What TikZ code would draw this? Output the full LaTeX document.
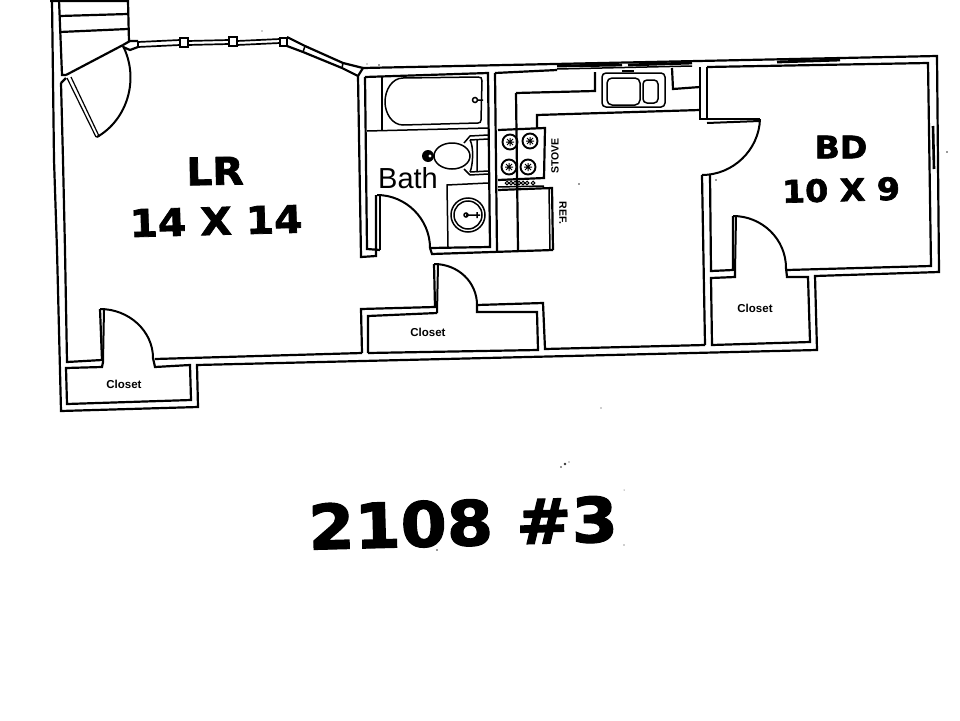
\documentclass[tikz,border=0pt]{standalone}
\usepackage{fontspec}
\setmainfont{Liberation Sans}
\newfontfamily\heavy[FakeBold=2,FakeStretch=1.07]{DejaVu Sans Bold}
\tikzset{
 wall/.style={line width=2.2pt,line join=miter,black},
 thin/.style={line width=1.5pt,black},
 door/.style={line width=2pt,black},
 leaf/.style={line width=1.2pt,black},
 big/.style={font=\heavy\fontsize{38}{38}\selectfont,inner sep=0pt},
 huge/.style={font=\heavy\fontsize{62}{62}\selectfont,inner sep=0pt},
 mid/.style={font=\heavy\fontsize{31}{31}\selectfont,inner sep=0pt},
 clos/.style={font=\bfseries\fontsize{11.5}{12}\selectfont,inner sep=0pt},
 tiny/.style={font=\bfseries\fontsize{10.5}{10.5}\selectfont,inner sep=0pt},
 burner/.style={circle,draw,line width=1.9pt,minimum size=15pt,inner sep=0pt},
 speck/.style={fill=black!80,draw=none}
}
\begin{document}
\begin{tikzpicture}[x=1pt,y=-1pt]
\useasboundingbox (0,0) rectangle (960,720);
\fill[white] (0,0) rectangle (960,720);
% outer shell, left and stairs
\draw[wall] (50,1) -- (128,1) -- (129,42);
\draw[wall] (52,0) -- (54,160) -- (57,250) -- (61,411) -- (198,407) -- (197,365) -- (817,350) -- (815,276) -- (939,272) -- (937,56) -- (363,68) -- (358,76) -- (361,257) -- (376,256) -- (376,195);
\draw[wall] (59,0) -- (62,75) -- (66,75);
\draw[wall] (61,83) -- (66,78);
\draw[wall] (61,83) -- (63,160) -- (65,250) -- (67,362) -- (102,360) -- (100,309);
\draw[wall] (60,16) -- (128,14) (60,32) -- (128,29);
% entry door
\draw[wall] (66,75) -- (123,45);
\draw[leaf] (67,78) -- (96,137) (71,77) -- (99,136) -- (96,137);
\draw[door] (123,46) .. controls (139.5,78.5) and (127.8,119.4) .. (97,137);
% front windows
\draw[wall] (123,45) -- (130,41) -- (138,41);
\draw[wall] (123,47) -- (130,50) -- (138,47);
\draw[thin] (138,41) -- (138,47);
\draw[leaf,line width=1.7pt] (138,42) -- (180,40) (138,47) -- (180,45);
\draw[thin] (180,38) rectangle (188,47);
\draw[leaf,line width=1.7pt] (188,41) -- (229,40) (188,45) -- (229,44);
\draw[thin] (229,37) rectangle (237,46);
\draw[leaf,line width=1.7pt] (237,41) -- (280,39) (237,45) -- (280,43);
\draw[thin] (280,38) rectangle (287,46);
\draw[wall] (287,37) -- (305,46) -- (343,63) -- (363,68);
\draw[wall] (287,46) -- (303,52) -- (342,68) -- (358,76);
\draw[thin] (305,46) -- (303,52) (343,63) -- (342,68);
% LR closet
\draw[door] (104,309) -- (103,362);
\draw[door] (100,309) .. controls (129,309) and (153,331) .. (153,358);
\draw[wall] (155,359) -- (362,353);
\draw[wall] (153,358) -- (155,367) -- (190,365) -- (191,400) -- (67,404) -- (66,368) -- (102,367) -- (103,362);
% centre closet
\draw[wall] (362,353) -- (361,309) -- (435,307) -- (434,264);
\draw[door] (438,264) -- (437,313);
\draw[door] (434,264) .. controls (458,264) and (477,282) .. (477,305);
\draw[wall] (477,305) -- (543,303) -- (545,349) -- (705,345);
\draw[wall] (368,353) -- (368,316) -- (437,313);
\draw[wall] (477,305) -- (477,312) -- (537,312) -- (538,350) -- (368,353);
% bathroom
\draw[wall] (365,77) -- (367,249) -- (380,250);
\draw[door] (380,196) -- (380,250);
\draw[door] (377,195) .. controls (406,195) and (430,219) .. (430,248);
\draw[wall] (430,248) -- (432,254) -- (553,250);
\draw[wall] (430,248) -- (490,247) -- (488,73) -- (365,77);
\draw[wall] (495,73) -- (497,252);
\draw[wall] (495,73) -- (557,70);
% tub
\draw[thin] (382,77) -- (382,130);
\draw[thin] (367,131) -- (488,128);
\draw[thin] (403,78) -- (478,77) .. controls (481,77) and (482,78) .. (482,81) -- (481,120) .. controls (481,122) and (480,123) .. (478,123) -- (403,125) .. controls (392,125) and (385,113) .. (385,102) .. controls (385,90) and (392,78) .. (403,78);
\draw[thin] (475,100) circle (2.5) (477,100) -- (483,100);
% toilet
\draw[thin] (464,143) -- (470,136) -- (488,135) (477,140) -- (477,172) (470,175) -- (488,174) (464,169) -- (470,175);
\draw[thin] (470,140) -- (488,139) (470,172) -- (488,171) (470,140) .. controls (474,147) and (473,165) .. (470,172);
\draw[thin] (452,156) ellipse (18 and 13);
\fill[black] (428,156) circle (6);
\fill[white] (430,156) circle (1.6);
% sink
\draw[thin] (448,247) -- (447,185) -- (488,183);
\draw[thin] (468,215) circle (17) (468,215) circle (14);
\draw[thin] (466,215) circle (2) -- (480,215) (477,212) -- (477,218);
% stove and counter
\draw[wall] (516,93) -- (518,250);
\draw[wall] (516,93) -- (595,91) -- (595,72);
\draw[wall] (537,128) -- (537,115) -- (700,110);
\draw[wall] (498,130) -- (545,128) -- (544,178) -- (498,180);
\draw[thin] (498,187) -- (544,186);
\node[burner] (b1) at (510,142) {};
\node[burner] (b2) at (530,141) {};
\node[burner] (b3) at (509,167) {};
\node[burner] (b4) at (528,167) {};
\foreach \n in {b1,b2,b3,b4}{\draw[line width=1pt] ([shift={(-4,0)}]\n.center) -- ([shift={(4,0)}]\n.center) ([shift={(0,-4)}]\n.center) -- ([shift={(0,4)}]\n.center) ([shift={(-3,-3)}]\n.center) -- ([shift={(3,3)}]\n.center) ([shift={(-3,3)}]\n.center) -- ([shift={(3,-3)}]\n.center);}
\foreach \p in {507,511,515,519,523,527,533}{\draw[line width=1pt] (\p,183) circle (1.8);}
% refrigerator
\draw[wall] (498,190) -- (552,188) -- (553,250);
\draw[thin] (549,189) -- (550,250);
% kitchen sink
\draw[thin] (557,69) -- (692,66);
\draw[wall,line width=2.8pt] (557,66) -- (622,65) (628,65) -- (692,63);
\draw[thin,rounded corners=4pt] (602,73) rectangle (665,107);
\draw[thin,rounded corners=5pt] (607,78) rectangle (640,105);
\draw[thin,rounded corners=4pt] (643,80) rectangle (658,103);
\draw[thin] (622,71) -- (634,71);
\draw[wall] (672,68) -- (673,89) -- (700,87);
% bedroom partitions
\draw[wall] (700,67) -- (700,119) -- (760,119);
\draw[wall] (707,67) -- (707,118);
\draw[door] (707,123) -- (760,121);
\draw[door] (760,119) .. controls (759,150) and (733,175) .. (702,175);
\draw[wall] (702,175) -- (705,345);
\draw[wall] (710,175) -- (711,271) -- (733,270) -- (733,216);
\draw[door] (736,216) -- (735,272);
\draw[door] (733,216) .. controls (762,216) and (786,239) .. (786,268);
\draw[wall] (786,268) -- (787,277) -- (808,277) -- (810,342) -- (712,345) -- (711,278) -- (735,277) -- (735,272);
\draw[wall] (787,270) -- (931,266) -- (928,63) -- (707,67);
% bedroom windows
\draw[wall,line width=2.8pt] (777,62) -- (840,60);
\draw[wall,line width=2.6pt] (933,126) -- (934,169);
% labels
\node[big,rotate=1] (lr) at (215,171) {LR};
\node[big,rotate=1.5] (lrs) at (216,221) {14 X 14};
\node[mid] (bd) at (841,147) {BD};
\node[mid,rotate=1.5] (bds) at (841,190) {10 X 9};
\node[huge,rotate=1.5] (ttl) at (463,523) {2108 \#3};
\node[inner sep=0pt,font=\fontsize{29}{29}\selectfont] (bath) at (408,178) {Bath};
\node[clos] (c1) at (124,384) {Closet};
\node[clos] (c2) at (428,332) {Closet};
\node[clos] (c3) at (755,308) {Closet};
\node[tiny,rotate=90] (st) at (555,156) {STOVE};
\node[tiny,rotate=-90] (rf) at (563,213) {REF.};
% specks
\foreach \a/\b/\r in {565/464/1.4,561/467/.9,569/462/.7,437/550/.9,624/490/.5,624/545/.6,379/65/.9,367/64/.7,579/184/.8,601/408/.7,716/180/.8,947/152/.8,262/31/.7}{\fill[speck] (\a,\b) circle (\r);}
\end{tikzpicture}
\end{document}
